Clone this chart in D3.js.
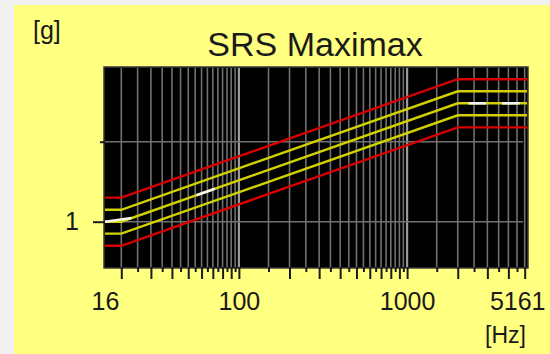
<!DOCTYPE html>
<html>
<head>
<meta charset="utf-8">
<script src="https://cdn.jsdelivr.net/npm/d3@7"></script>
<style>
  html, body { margin: 0; padding: 0; background: #f0f0f0; }
  svg { display: block; }
  .axis path { display: none; }
  .axis line { stroke: #1a1a1a; stroke-width: 2; }
  .axis text { fill: #1a1a1a; }
</style>
</head>
<body>
<script>
// --- data ---
// profile breakpoints (Hz) and levels (g)
var freqs      = [16, 20, 2000, 5161];
var reference  = [1.0, 1.0, 30.2, 30.2];
var alarmHigh  = [1.41, 1.41, 42.7, 42.7];
var alarmLow   = [0.71, 0.71, 21.4, 21.4];
var abortHigh  = [2.0, 2.0, 60.4, 60.4];
var abortLow   = [0.5, 0.5, 15.1, 15.1];

// white control trace pieces visible on top of the reference
var controlSegments = [
  [[16, 1.0], [23, 1.11]],
  [[56, 2.14], [72, 2.58]],
  [[2320, 30.2], [2950, 30.2]],
  [[3665, 30.2], [4665, 30.2]]
];

// axes
var xLabelValues = [16, 100, 1000, 5161];
var xMajorTicks = [20, 30, 40, 50, 60, 70, 80, 90, 100,
                   200, 300, 400, 500, 600, 700, 800, 900, 1000,
                   2000, 3000, 4000, 5000];
var xMinorTicks = [25, 35, 45, 55, 65, 75, 85, 95,
                   150, 250, 350, 450, 550, 650, 750, 850, 950,
                   1500, 2500, 3500, 4500];
var yMajorTicks = [1];
var yMinorTicks = [10];

var W = 550, H = 354;
var plot = {left: 105, right: 527, top: 68, bottom: 267};

var svg = d3.select("body").append("svg")
  .attr("width", W)
  .attr("height", H);

// yellow panel
svg.append("rect")
  .attr("x", 14).attr("y", 5)
  .attr("width", W - 14).attr("height", H - 5)
  .attr("fill", "#ffff80");

var x = d3.scaleLog().domain([16, 5161]).range([plot.left, plot.right]);
var y = d3.scaleLog().domain([0.2716, 83.4]).range([plot.bottom, plot.top]);

// plot background
svg.append("rect")
  .attr("x", plot.left - 1).attr("y", plot.top - 1)
  .attr("width", plot.right - plot.left + 2)
  .attr("height", plot.bottom - plot.top + 2)
  .attr("fill", "#000")
  .attr("stroke", "#3a3a3a")
  .attr("stroke-width", 1.5);

var grid = svg.append("g");

// vertical grid
grid.selectAll("line.vgrid")
  .data(xMajorTicks.concat(xMinorTicks))
  .enter()
  .append("line")
    .attr("class", "vgrid")
    .attr("x1", function(d) { return x(d); })
    .attr("x2", function(d) { return x(d); })
    .attr("y1", plot.top)
    .attr("y2", plot.bottom)
    .attr("stroke", function(d) { return (d === 100 || d === 1000) ? "#9a9a9a" : "#707070"; })
    .attr("stroke-width", function(d) { return (d === 100 || d === 1000) ? 2.2 : 1.6; });

// horizontal grid
grid.selectAll("line.hgrid")
  .data(yMajorTicks.concat(yMinorTicks))
  .enter()
  .append("line")
    .attr("class", "hgrid")
    .attr("x1", plot.left)
    .attr("x2", plot.right - 4)
    .attr("y1", function(d) { return y(d); })
    .attr("y2", function(d) { return y(d); })
    .attr("stroke", "#707070")
    .attr("stroke-width", 1.6);

// lines
var line = d3.line()
  .x(function(d) { return x(d[0]); })
  .y(function(d) { return y(d[1]); });

function zipProfile(levels) {
  return freqs.map(function(f, i) { return [f, levels[i]]; });
}

var curves = [
  {values: abortLow,  colour: "#d80000"},
  {values: abortHigh, colour: "#d80000"},
  {values: alarmLow,  colour: "#d2d200"},
  {values: alarmHigh, colour: "#d2d200"},
  {values: reference, colour: "#d2d200"}
];

svg.append("g").selectAll("path.curve")
  .data(curves)
  .enter()
  .append("path")
    .attr("class", "curve")
    .attr("d", function(d) { return line(zipProfile(d.values)); })
    .attr("fill", "none")
    .attr("stroke", function(d) { return d.colour; })
    .attr("stroke-width", 2.4);

svg.append("g").selectAll("path.control")
  .data(controlSegments)
  .enter()
  .append("path")
    .attr("class", "control")
    .attr("d", line)
    .attr("fill", "none")
    .attr("stroke", "#f4f4f4")
    .attr("stroke-width", 2.6);

// x axis ticks
svg.append("g")
  .attr("class", "axis")
  .attr("transform", "translate(0," + plot.bottom + ")")
  .call(d3.axisBottom(x).tickValues(xMajorTicks).tickSize(12).tickFormat(""));

svg.append("g")
  .attr("class", "axis")
  .attr("transform", "translate(0," + plot.bottom + ")")
  .call(d3.axisBottom(x).tickValues(xMinorTicks).tickSize(5).tickFormat(""));

var xLab = svg.append("g")
  .attr("class", "axis")
  .attr("transform", "translate(0," + plot.bottom + ")")
  .call(d3.axisBottom(x).tickValues(xLabelValues).tickSize(0).tickPadding(25)
    .tickFormat(d3.format("d")));
xLab.selectAll("text")
  .style("font-family", "'Liberation Sans', sans-serif")
  .style("font-size", "25px");
xLab.selectAll(".tick")
  .filter(function(d) { return d === 5161; })
  .select("text")
    .attr("text-anchor", "end")
    .attr("x", 545 - x(5161));

// y axis ticks
var yAx = svg.append("g")
  .attr("class", "axis")
  .attr("transform", "translate(" + plot.left + ",0)")
  .call(d3.axisLeft(y).tickValues(yMajorTicks).tickSize(12).tickPadding(14)
    .tickFormat(d3.format("d")));
yAx.selectAll("text")
  .style("font-family", "'Liberation Sans', sans-serif")
  .style("font-size", "25px");

svg.append("g")
  .attr("class", "axis")
  .attr("transform", "translate(" + plot.left + ",0)")
  .call(d3.axisLeft(y).tickValues(yMinorTicks).tickSize(5).tickFormat(""));

// texts
svg.append("text")
  .attr("x", 315).attr("y", 56)
  .attr("text-anchor", "middle")
  .style("font-family", "'Liberation Sans', sans-serif")
  .style("font-size", "34px")
  .attr("fill", "#1a1a1a")
  .text("SRS Maximax");

svg.append("text")
  .attr("x", 33).attr("y", 39)
  .style("font-family", "'Liberation Sans', sans-serif")
  .style("font-size", "25px")
  .attr("fill", "#1a1a1a")
  .text("[g]");

svg.append("text")
  .attr("x", 526).attr("y", 343)
  .attr("text-anchor", "end")
  .style("font-family", "'Liberation Sans', sans-serif")
  .style("font-size", "23px")
  .attr("fill", "#1a1a1a")
  .text("[Hz]");
</script>
</body>
</html>
